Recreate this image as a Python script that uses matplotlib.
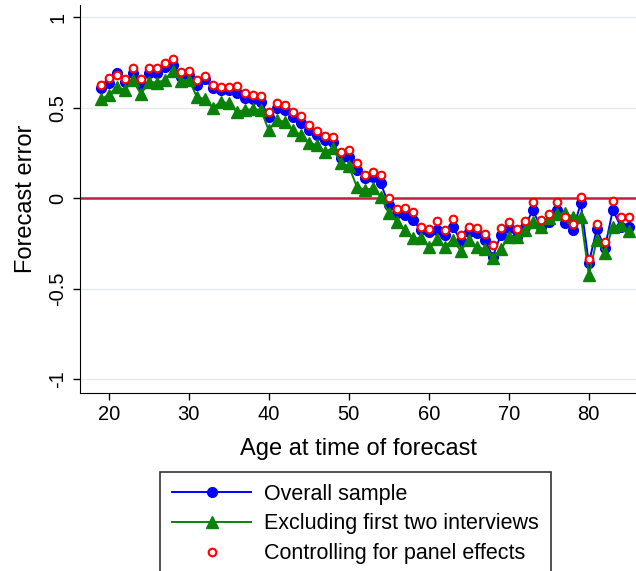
import matplotlib
matplotlib.use("Agg")
import matplotlib.pyplot as plt

plt.rcParams["font.family"] = ["Liberation Sans", "DejaVu Sans"]

ages = list(range(19, 86))

overall = [0.608, 0.639, 0.690, 0.644, 0.690, 0.626, 0.690, 0.690, 0.727, 0.736,
           0.672, 0.681, 0.626, 0.657, 0.608, 0.598, 0.598, 0.580, 0.552, 0.547,
           0.534, 0.450, 0.497, 0.488, 0.451, 0.414, 0.377, 0.350, 0.322, 0.313,
           0.221, 0.230, 0.156, 0.110, 0.119, 0.083, -0.037, -0.083, -0.092, -0.120,
           -0.175, -0.184, -0.175, -0.203, -0.157, -0.235, -0.184, -0.193, -0.230, -0.322,
           -0.203, -0.166, -0.212, -0.157, -0.065, -0.160, -0.129, -0.065, -0.138, -0.175,
           -0.028, -0.359, -0.169, -0.276, -0.065, -0.157, -0.160]

excl_first_two = [0.547, 0.571, 0.617, 0.598, 0.654, 0.576, 0.644, 0.639, 0.654, 0.705,
                  0.650, 0.656, 0.561, 0.547, 0.500, 0.534, 0.525, 0.478, 0.488, 0.492,
                  0.488, 0.375, 0.433, 0.423, 0.377, 0.350, 0.307, 0.293, 0.257, 0.276,
                  0.197, 0.178, 0.064, 0.046, 0.055, 0.009, -0.083, -0.129, -0.175, -0.221,
                  -0.221, -0.267, -0.227, -0.267, -0.230, -0.290, -0.230, -0.267, -0.282, -0.330,
                  -0.282, -0.212, -0.212, -0.175, -0.129, -0.160, -0.110, -0.088, -0.083, -0.101,
                  -0.101, -0.423, -0.230, -0.304, -0.157, -0.148, -0.180]

panel_ctrl = [0.626, 0.667, 0.681, 0.659, 0.718, 0.657, 0.718, 0.718, 0.749, 0.768,
              0.700, 0.703, 0.654, 0.676, 0.626, 0.613, 0.617, 0.622, 0.583, 0.571,
              0.567, 0.475, 0.525, 0.515, 0.478, 0.455, 0.405, 0.373, 0.344, 0.340,
              0.254, 0.267, 0.193, 0.129, 0.147, 0.129, 0.000, -0.061, -0.052, -0.074,
              -0.157, -0.170, -0.125, -0.175, -0.114, -0.203, -0.157, -0.166, -0.197, -0.258,
              -0.166, -0.129, -0.171, -0.124, -0.022, -0.120, -0.088, -0.022, -0.101, -0.143,
              0.006, -0.335, -0.142, -0.240, -0.013, -0.105, -0.105]

x_ticks = [20, 30, 40, 50, 60, 70, 80]
y_ticks = [-1, -0.5, 0, 0.5, 1]
y_tick_labels = ["-1", "-0.5", "0", "0.5", "1"]

fig = plt.figure(figsize=(6.36, 5.71), dpi=100)
ax = fig.add_axes([80 / 636, 178 / 571, 556 / 636, 388 / 571])

# light grid + zero reference line
for y in [-1, -0.5, 0.5, 1]:
    ax.axhline(y, color="#e4ecef", linewidth=1.0, zorder=0)
ax.axhline(0, color="#c41e3a", linewidth=1.8, zorder=1)

ax.plot(ages, overall, color="#0000ff", linewidth=1.4, marker="o",
        markersize=7, label="Overall sample", zorder=2)
ax.plot(ages, excl_first_two, color="#0a820a", linewidth=1.4, marker="^",
        markersize=8.5, label="Excluding first two interviews", zorder=3)
ax.plot(ages, panel_ctrl, linestyle="none", marker="o", markersize=5.5,
        markerfacecolor="white", markeredgecolor="#ff0000", markeredgewidth=1.5,
        label="Controlling for panel effects", zorder=4)

ax.set_xlim(16.4, 85.9)
ax.set_ylim(-1.076, 1.068)
ax.set_xticks(x_ticks)
ax.set_yticks(y_ticks)
ax.set_yticklabels(y_tick_labels, rotation=90, va="center")

for side in ["top", "right"]:
    ax.spines[side].set_visible(False)
ax.tick_params(direction="out", length=5, width=1, labelsize=14.5, pad=4)

ax.set_xlabel("Age at time of forecast", fontsize=17, labelpad=10)
ax.set_ylabel("Forecast error", fontsize=17, labelpad=8)

# legend box sits below the plot and runs off the bottom edge, as in the original
leg = fig.legend(loc="upper left", bbox_to_anchor=(160 / 636, 99 / 571),
                 fontsize=15.5, handlelength=3.7, frameon=True, fancybox=False,
                 borderpad=0.55, labelspacing=0.4, handletextpad=0.6,
                 borderaxespad=0)
leg.get_frame().set_edgecolor("black")
leg.get_frame().set_linewidth(1.2)

fig.savefig("out.png", dpi=100)
